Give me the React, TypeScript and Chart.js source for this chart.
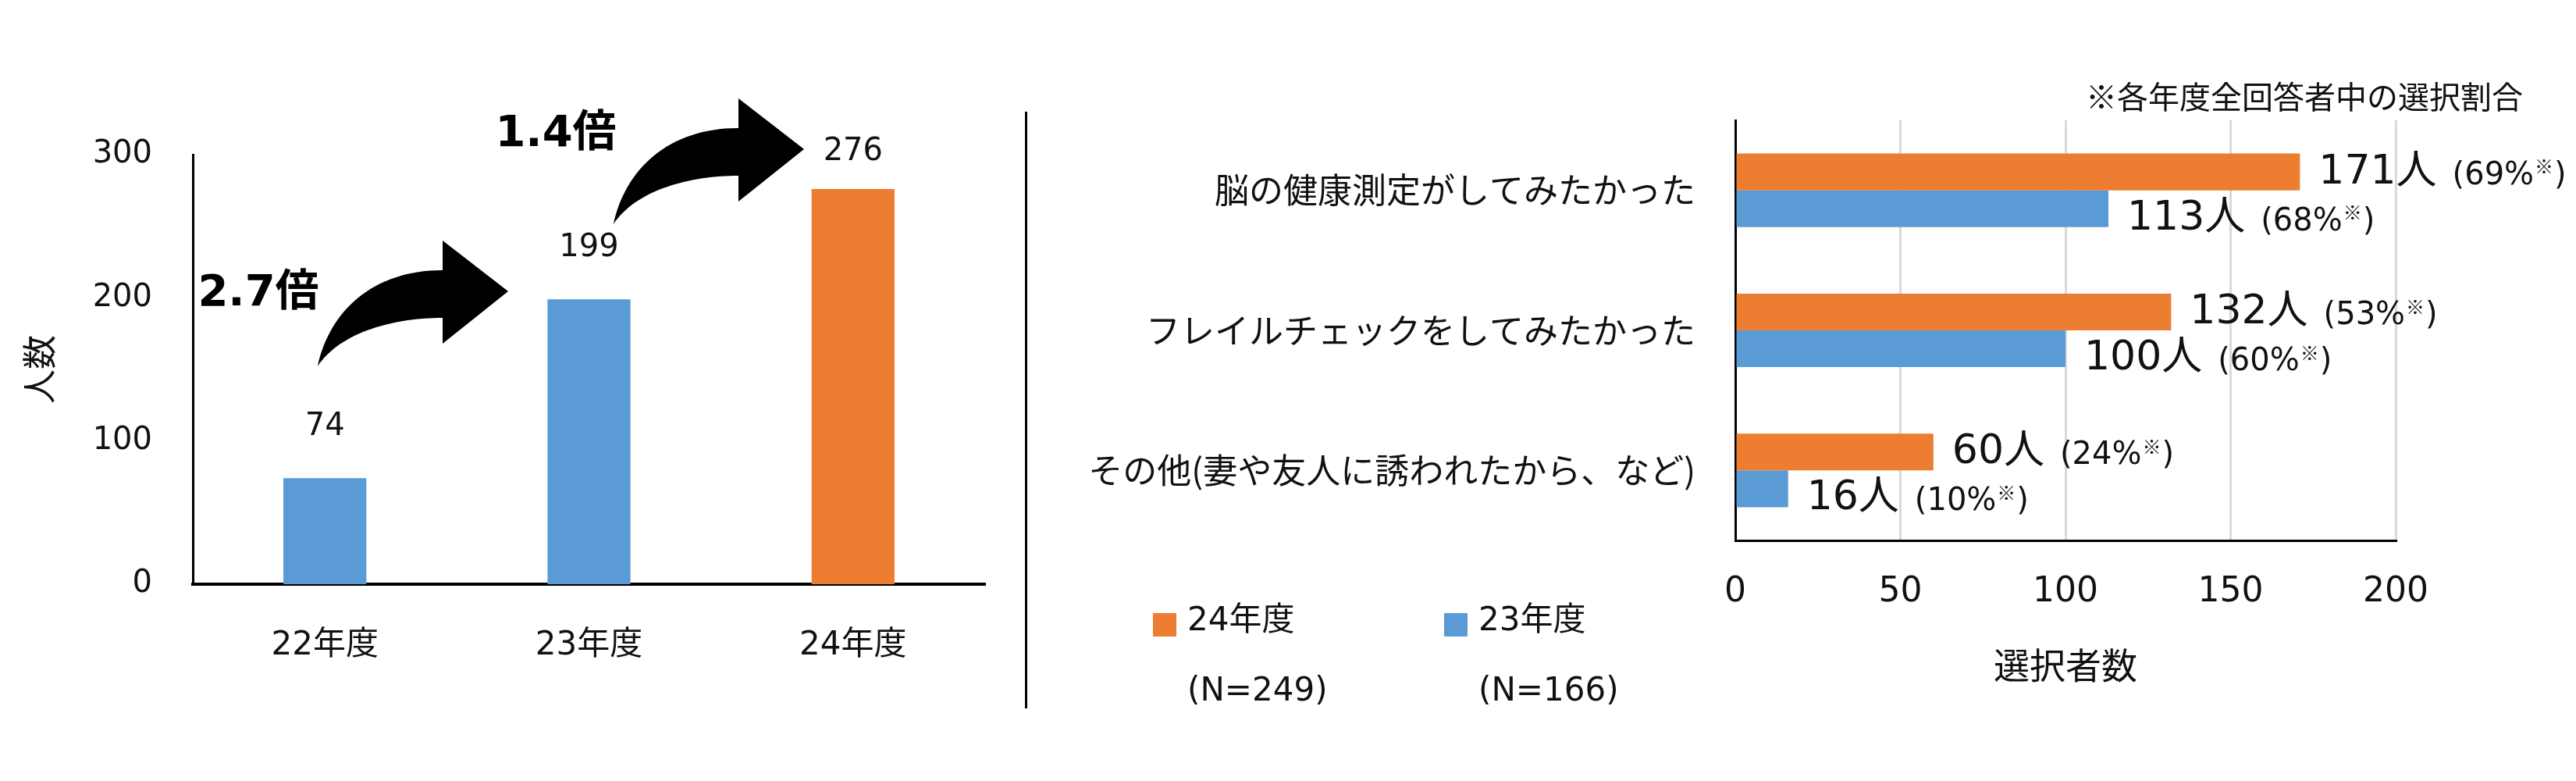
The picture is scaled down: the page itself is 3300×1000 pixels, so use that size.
import { useEffect, useRef } from "react";
import { Chart, registerables } from "chart.js";

Chart.register(...registerables);

// left chart: participants per year
const years = ["22年度", "23年度", "24年度"];
const participants = [74, 199, 276];
const yearColors = ["#5B9BD5", "#5B9BD5", "#ED7D31"];

// right chart: reasons for joining
const reasons = [
  "脳の健康測定がしてみたかった",
  "フレイルチェックをしてみたかった",
  "その他(妻や友人に誘われたから、など)",
];
const seriesNames = ["24年度", "23年度"];
const seriesColors = ["#ED7D31", "#5B9BD5"];
const respondents = [249, 166];
const reasons24 = [171, 132, 60];
const reasons23 = [113, 100, 16];
const share24 = [69, 53, 24];
const share23 = [68, 60, 10];

const INK = "#111";
const LATIN = '"DejaVu Sans", "Noto Sans CJK JP", sans-serif';
const JP = '"Noto Sans CJK JP", sans-serif';

const valueLabels = {
  id: "valueLabels",
  afterDatasetsDraw(chart: any) {
    const { ctx, chartArea } = chart;
    const meta = chart.getDatasetMeta(0);
    ctx.save();
    ctx.fillStyle = INK;
    ctx.font = `40px ${LATIN}`;
    ctx.textAlign = "center";
    ctx.textBaseline = "middle";
    meta.data.forEach((bar: any, i: number) => {
      const y = Math.max(bar.y - 66, chartArea.top - 3);
      ctx.fillText(String(participants[i]), bar.x, y);
    });
    ctx.restore();
  },
};

// curved "growth" arrows between the bars, with the ratio text
const growthArrows = {
  id: "growthArrows",
  afterDatasetsDraw(chart: any) {
    const { ctx, chartArea } = chart;
    const spots = [
      { tail: [160, 271], text: [84, 178] },
      { tail: [539, 89], text: [465, -26] },
    ];
    ctx.save();
    ctx.fillStyle = "#000";
    spots.forEach((s, i) => {
      const tx = chartArea.left + s.tail[0];
      const ty = chartArea.top + s.tail[1];
      ctx.beginPath();
      ctx.moveTo(tx, ty);
      ctx.bezierCurveTo(tx + 15, ty - 70, tx + 70, ty - 123, tx + 160, ty - 123);
      ctx.lineTo(tx + 160, ty - 161);
      ctx.lineTo(tx + 244, ty - 96);
      ctx.lineTo(tx + 160, ty - 29);
      ctx.lineTo(tx + 160, ty - 62);
      ctx.bezierCurveTo(tx + 100, ty - 62, tx + 30, ty - 45, tx, ty);
      ctx.closePath();
      ctx.fill();

      const ratio = (participants[i + 1] / participants[i]).toFixed(1) + "倍";
      ctx.font = `bold 56px ${LATIN}`;
      ctx.textAlign = "center";
      ctx.textBaseline = "middle";
      ctx.fillText(ratio, chartArea.left + s.text[0], chartArea.top + s.text[1]);
    });
    ctx.restore();
  },
};

// "171人 (69%※)" style labels at the bar ends
const reasonLabels = {
  id: "reasonLabels",
  afterDatasetsDraw(chart: any) {
    const { ctx } = chart;
    const shares = [share24, share23];
    ctx.save();
    ctx.fillStyle = INK;
    ctx.textBaseline = "middle";
    ctx.textAlign = "left";
    chart.data.datasets.forEach((ds: any, d: number) => {
      const meta = chart.getDatasetMeta(d);
      meta.data.forEach((bar: any, i: number) => {
        let x = bar.x + 24;
        const y = bar.y + (d === 1 ? 13 : 1);
        ctx.font = `52px ${LATIN}`;
        const big = ds.data[i] + "人";
        ctx.fillText(big, x, y);
        x += ctx.measureText(big).width + 20;
        ctx.font = `40px ${LATIN}`;
        const pre = "(" + shares[d][i] + "%";
        ctx.fillText(pre, x, y + 4);
        x += ctx.measureText(pre).width + 1;
        ctx.font = `24px ${JP}`;
        ctx.fillText("※", x, y - 8);
        x += ctx.measureText("※").width + 1;
        ctx.font = `40px ${LATIN}`;
        ctx.fillText(")", x, y + 4);
      });
    });
    ctx.restore();
  },
};

function YearChart() {
  const ref = useRef<HTMLCanvasElement>(null);

  useEffect(() => {
    if (!ref.current) return;
    const chart = new Chart(ref.current, {
      type: "bar",
      data: {
        labels: years,
        datasets: [
          {
            data: participants,
            backgroundColor: yearColors,
            barPercentage: 0.314,
            categoryPercentage: 1,
          },
        ],
      },
      options: {
        responsive: false,
        animation: false,
        layout: { padding: { top: 198, right: 38, left: 0, bottom: 0 } },
        plugins: { legend: { display: false }, tooltip: { enabled: false } },
        scales: {
          x: {
            grid: { display: false, drawTicks: false },
            border: { color: "#000", width: 4 },
            ticks: { color: INK, font: { family: LATIN, size: 42 }, padding: 54 },
            afterFit: (s: any) => {
              s.height = 252;
            },
          },
          y: {
            min: 0,
            max: 300,
            ticks: { stepSize: 100, color: INK, font: { family: LATIN, size: 40 }, padding: 52 },
            grid: { display: false, drawTicks: false },
            border: { color: "#000", width: 3 },
            title: {
              display: true,
              text: "人数",
              color: INK,
              font: { family: JP, size: 44 },
              padding: { top: 24, bottom: 0 },
            },
            afterFit: (s: any) => {
              s.width = 247;
            },
          },
        },
      },
      plugins: [valueLabels, growthArrows],
    } as any);
    return () => chart.destroy();
  }, []);

  return (
    <canvas
      ref={ref}
      width={1300}
      height={1000}
      style={{ position: "absolute", left: 0, top: 0 }}
    />
  );
}

function ReasonChart() {
  const ref = useRef<HTMLCanvasElement>(null);

  useEffect(() => {
    if (!ref.current) return;
    const chart = new Chart(ref.current, {
      type: "bar",
      data: {
        labels: reasons,
        datasets: [
          {
            label: seriesNames[0],
            data: reasons24,
            backgroundColor: seriesColors[0],
            barPercentage: 1,
            categoryPercentage: 0.525,
          },
          {
            label: seriesNames[1],
            data: reasons23,
            backgroundColor: seriesColors[1],
            barPercentage: 1,
            categoryPercentage: 0.525,
          },
        ],
      },
      options: {
        indexAxis: "y",
        responsive: false,
        animation: false,
        layout: { padding: { top: 154, right: 231, left: 0, bottom: 0 } },
        plugins: { legend: { display: false }, tooltip: { enabled: false } },
        scales: {
          x: {
            min: 0,
            max: 200,
            ticks: { stepSize: 50, color: INK, font: { family: LATIN, size: 44 }, padding: 40 },
            grid: { color: "#d9d9d9", lineWidth: 3, drawTicks: false },
            border: { color: "#000", width: 3 },
            title: {
              display: true,
              text: "選択者数",
              color: INK,
              font: { family: JP, size: 46 },
              padding: { top: 0, bottom: 121 },
            },
            afterFit: (s: any) => {
              s.height = 308;
            },
          },
          y: {
            ticks: { color: INK, font: { family: JP, size: 44 }, padding: 51 },
            grid: { display: false, drawTicks: false },
            border: { color: "#000", width: 3 },
            afterFit: (s: any) => {
              s.width = 903;
            },
          },
        },
      },
      plugins: [reasonLabels],
    } as any);
    return () => chart.destroy();
  }, []);

  return (
    <canvas
      ref={ref}
      width={1980}
      height={1000}
      style={{ position: "absolute", left: 1320, top: 0 }}
    />
  );
}

export default function App() {
  const legendX = [1477, 1850];
  return (
    <div
      style={{
        position: "absolute",
        left: 0,
        top: 0,
        width: 3300,
        height: 1000,
        background: "#fff",
        overflow: "hidden",
        color: INK,
        fontFamily: LATIN,
      }}
    >
      <YearChart />
      <div
        style={{
          position: "absolute",
          left: 1313,
          top: 143,
          width: 3,
          height: 764,
          background: "#000",
        }}
      />
      <ReasonChart />
      <div
        style={{
          position: "absolute",
          left: 2672,
          top: 97,
          fontSize: 40,
          lineHeight: "50px",
          fontFamily: JP,
          whiteSpace: "nowrap",
        }}
      >
        ※各年度全回答者中の選択割合
      </div>
      {seriesNames.map((name, i) => (
        <div key={name}>
          <div
            style={{
              position: "absolute",
              left: legendX[i],
              top: 785,
              width: 30,
              height: 30,
              background: seriesColors[i],
            }}
          />
          <div
            style={{
              position: "absolute",
              left: legendX[i] + 44,
              top: 768,
              fontSize: 42,
              lineHeight: "50px",
              whiteSpace: "nowrap",
            }}
          >
            {name}
          </div>
          <div
            style={{
              position: "absolute",
              left: legendX[i] + 44,
              top: 858,
              fontSize: 42,
              lineHeight: "50px",
              whiteSpace: "nowrap",
            }}
          >
            (N={respondents[i]})
          </div>
        </div>
      ))}
    </div>
  );
}
